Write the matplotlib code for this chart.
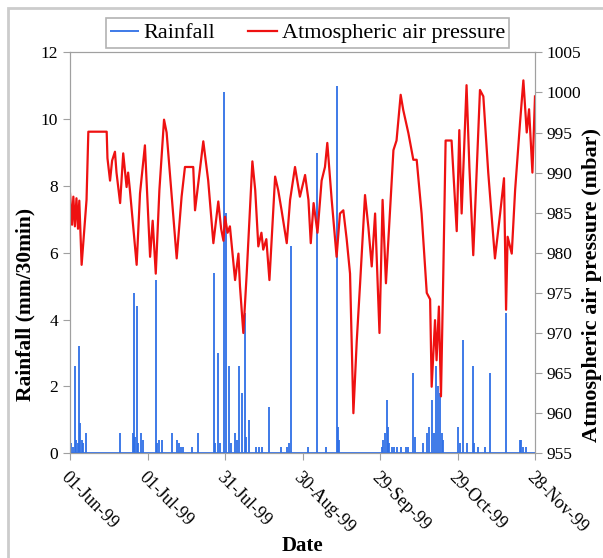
import pandas as pd
import matplotlib.pyplot as plt
import matplotlib.dates as mdates
from matplotlib.patches import Rectangle

plt.rcParams['font.family'] = ['Liberation Serif', 'DejaVu Serif']

start = pd.Timestamp('1999-06-01')

# atmospheric pressure (mbar): day offset from 01-Jun-99 and value
p_day = [0, 0.8, 1.3, 1.9, 2.5, 3.1, 3.6, 4.5, 6.4, 7.1, 14.2, 14.5, 15.5, 16.3, 17.4, 18,
         19.4, 20.6, 21.9, 22.5, 23.2, 25.8, 27.1, 29, 31, 32, 33.2, 34.6, 36.4, 37.4, 41.3,
         43.2, 44.5, 47.7, 48.4, 51.6, 53.5, 55.5, 57.4, 58.5, 59.4, 60, 61, 61.9, 63.9, 65.2,
         65.8, 67.1, 68.4, 69.7, 70.6, 71.7, 72.9, 74.1, 74.8, 76, 77.2, 79.4, 80.6, 81.9,
         83.9, 85.2, 87.1, 89, 91, 92.3, 93.2, 94.3, 95.8, 97.4, 98.7, 99.6, 101.3, 103.2,
         104.5, 105.8, 107.1, 108.4, 109.7, 111, 112.3, 114.2, 115.5, 116.8, 118.1, 119.8,
         121, 122.3, 125.2, 126.4, 128, 129, 131, 132.9, 134.2, 136.1, 138.1, 139.4, 140,
         141.3, 141.9, 142.8, 143.6, 144.5, 145.4, 147.7, 148.6, 149.7, 150.7, 151.6, 153.5,
         154.6, 156.1, 157.4, 158.7, 160, 161.9, 164.5, 166.5, 168, 168.8, 169.4, 171, 172.3,
         174.2, 175.5, 176.8, 177.7, 179, 180]
p_val = [987.4, 983.5, 987, 983.3, 986.8, 983, 986.5, 978.5, 986.6, 995.1, 995.1, 991.8, 989,
         991.5, 992.6, 990, 986.2, 992.4, 988.2, 990, 987.8, 978.5, 987.4, 993.4, 979.5, 984,
         977.4, 987.8, 996.6, 995, 979.3, 987, 990.7, 990.7, 985.3, 993.9, 989, 981.2, 986.4,
         983, 981.5, 984.5, 982.5, 983.3, 976.6, 979.9, 975.8, 970, 977.4, 985.7, 991.4,
         987.8, 980.8, 982.5, 980.4, 981.7, 976.6, 989.5, 987.8, 985.3, 981.2, 986.6, 990.7,
         987, 989.7, 986.6, 981.2, 986.2, 982.5, 989, 990.7, 993.7, 986.6, 979.5, 984.9,
         985.3, 981.7, 977.4, 960, 969, 976.2, 987.2, 983.2, 978.3, 984.9, 970, 986.6, 976.2,
         992.8, 994, 999.7, 997.8, 994.9, 991.6, 991.6, 984.9, 975, 974.2, 963.3, 971.6,
         966.6, 973.3, 962.1, 977.4, 994, 994, 989, 982.7, 995.3, 984.9, 1000.9, 990.7,
         979.7, 990, 1000.3, 999.5, 990, 979.3, 984.9, 989.3, 972.9, 982, 979.9, 987.8,
         996.2, 1001.5, 995, 997.9, 990, 999.5]

# rainfall (mm/30min) spikes: day offset and value
r_day = [0.5, 1.0, 1.9, 2.3, 3.0, 3.6, 4.0, 4.5, 5.0, 6.2, 19.4, 24.3, 24.9, 25.3, 25.8, 26.3,
         27.5, 28.4, 33.2, 33.6, 34.5, 35.5, 39.4, 41.3, 42.3, 42.8, 43.9, 47.1, 49.7, 55.7,
         56.0, 57.4, 58.2, 59.6, 60.2, 61.7, 62.3, 63.9, 64.5, 65.5, 66.7, 67.7, 68.2, 69.4,
         72.0, 73.2, 74.3, 77.2, 81.6, 84.0, 84.8, 85.6, 92.0, 95.5, 99.0, 103.5, 103.8,
         104.2, 120.6, 121.3, 122.0, 122.6, 123.0, 123.6, 124.5, 125.5, 126.5, 128.0, 130.0,
         131.0, 132.9, 133.4, 136.7, 138.0, 139.0, 140.0, 141.0, 141.7, 142.6, 143.2, 144.0,
         144.5, 150.0, 151.0, 152.3, 153.5, 155.9, 156.5, 158.0, 160.5, 162.6, 168.8, 174.0,
         174.6, 175.3, 176.5]
r_val = [0.3, 0.2, 2.6, 0.4, 0.3, 3.2, 0.9, 0.4, 0.3, 0.6, 0.6, 0.6, 4.8, 0.5, 4.4, 0.3,
         0.6, 0.4, 5.2, 0.3, 0.4, 0.4, 0.6, 0.4, 0.3, 0.2, 0.2, 0.2, 0.6, 5.4,
         0.3, 3.0, 0.3, 10.8, 7.2, 2.6, 0.3, 0.6, 0.4, 2.6, 1.8, 4.2, 0.5, 1.0,
         0.2, 0.2, 0.2, 1.4, 0.2, 0.2, 0.3, 6.2, 0.2, 9.0, 0.2, 11.0, 0.8,
         0.4, 0.2, 0.4, 0.6, 1.6, 0.8, 0.3, 0.2, 0.2, 0.2, 0.2, 0.2,
         0.2, 2.4, 0.5, 0.3, 0.6, 0.8, 1.6, 0.6, 2.6, 2.0, 1.8, 0.6,
         0.4, 0.8, 0.3, 3.4, 0.3, 2.6, 0.3, 0.2, 0.2, 2.4, 4.2, 0.4,
         0.4, 0.2, 0.2]

p_dates = start + pd.to_timedelta(p_day, unit='D')
r_dates = start + pd.to_timedelta(r_day, unit='D')

blue = '#2f6fe6'
red = '#ee1111'
grey = '#a0a0a0'

fig = plt.figure(figsize=(6.03, 5.58), dpi=100)
ax = fig.add_axes([70 / 603, 1 - 453.3 / 558, 465 / 603, 401 / 558])
ax2 = ax.twinx()

ax.vlines(r_dates, 0, r_val, color=blue, lw=1.3, label='Rainfall')
ax.axhline(0, color=blue, lw=2)
ax2.plot(p_dates, p_val, color=red, lw=1.6, label='Atmospheric air pressure')

ax.set_ylim(0, 12)
ax.set_yticks(range(0, 13, 2))
ax2.set_ylim(955, 1005)
ax2.set_yticks(range(955, 1006, 5))
ax.set_xlim(start, start + pd.Timedelta(days=180))
ax.set_xticks(pd.date_range(start, periods=7, freq='30D'))
ax.xaxis.set_major_formatter(mdates.DateFormatter('%d-%b-%y'))
for lab in ax.get_xticklabels():
    lab.set_rotation(-45)
    lab.set_ha('left')
    lab.set_va('top')
    lab.set_rotation_mode('anchor')

for a in (ax, ax2):
    for s in a.spines.values():
        s.set_color(grey)
    a.tick_params(colors=grey, labelcolor='black', labelsize=12.5, length=5)
ax.tick_params(axis='x', labelsize=13, pad=6)

ax.set_xlabel('Date', fontsize=15, fontweight='bold', labelpad=0)
ax.xaxis.set_label_coords(0.5, -0.205)
ax.set_ylabel('Rainfall (mm/30min)', fontsize=15.5, fontweight='bold')
ax.yaxis.set_label_coords(-0.075, 0.37)
ax2.set_ylabel('Atmospheric air pressure (mbar)', fontsize=16, fontweight='bold',
               rotation=90)
ax2.yaxis.set_label_coords(1.1, 0.42)

h1, l1 = ax.get_legend_handles_labels()
h2, l2 = ax2.get_legend_handles_labels()
leg = fig.legend(h1 + h2, l1 + l2, loc='center', bbox_to_anchor=(0.51, 1 - 33 / 558),
                 ncol=2, fontsize=16, frameon=True, fancybox=False, handlelength=1.3,
                 handletextpad=0.2, columnspacing=1.5, borderpad=0.2)
leg.get_frame().set_edgecolor(grey)
leg.get_frame().set_linewidth(1.2)

fig.patches.append(Rectangle((8 / 603, -0.1), 1.2, 1.1 - 8 / 558, transform=fig.transFigure,
                             fill=False, edgecolor='#cccccc', lw=2))

fig.savefig('out.png', dpi=100)
